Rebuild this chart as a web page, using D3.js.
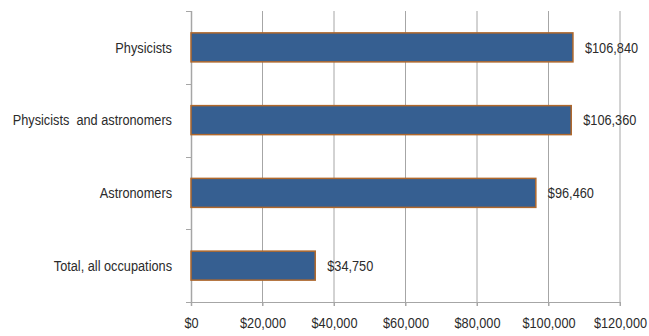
<!DOCTYPE html>
<html>
<head>
<meta charset="utf-8">
<script src="https://cdn.jsdelivr.net/npm/d3@7"></script>
<style>
  body { margin: 0; background: #fff; }
  text { font-family: "Liberation Sans", Arial, sans-serif; fill: #2b2b2b; }
</style>
</head>
<body>
<div id="chart"></div>
<script>
'use strict';

// wages by occupation, top to bottom
var categories = ['Physicists', 'Physicists  and astronomers', 'Astronomers', 'Total, all occupations'];
var wages = [106840, 106360, 96460, 34750];
var xTicks = [0, 20000, 40000, 60000, 80000, 100000, 120000];

var width = 649, height = 336;
var margin = {top: 11, right: 29, bottom: 34, left: 191};
var fontSize = 15;
var narrow = 0.85; // no Arial Narrow here, squeeze Liberation Sans instead

var svg = d3.select('#chart').append('svg')
  .attr('width', width)
  .attr('height', height);

var x = d3.scaleLinear()
  .domain([0, 120000])
  .range([margin.left, width - margin.right]);

// one band per category, ticks sit on the band edges
var y = d3.scaleBand()
  .domain(categories)
  .range([margin.top, height - margin.bottom]);

var fmt = function (v) { return '$' + d3.format(',')(v); };
var place = function (px, py) {
  return 'translate(' + px + ',' + py + ') scale(' + narrow + ',1)';
};

// vertical gridlines
svg.append('g')
  .selectAll('line')
  .data(xTicks.slice(1))
  .join('line')
  .attr('x1', function (d) { return x(d); })
  .attr('x2', function (d) { return x(d); })
  .attr('y1', margin.top)
  .attr('y2', height - margin.bottom + 4)
  .attr('stroke', '#a6a6a6')
  .attr('stroke-width', 1);

// bottom axis
var xAxis = svg.append('g')
  .attr('transform', 'translate(0,' + (height - margin.bottom) + ')')
  .call(d3.axisBottom(x).tickValues(xTicks).tickFormat(fmt).tickSize(4).tickPadding(11));
xAxis.select('.domain')
  .attr('d', 'M' + (margin.left - 5) + ',0.5H' + x(120000))
  .attr('stroke', '#a6a6a6');
xAxis.selectAll('.tick line').attr('stroke', '#a6a6a6');
xAxis.selectAll('.tick text')
  .attr('font-size', fontSize)
  .attr('y', null)
  .attr('transform', place(0, 15))
  .style('fill', '#2b2b2b');

// left axis
var yAxis = svg.append('g');
yAxis.append('line')
  .attr('x1', margin.left + 0.5).attr('x2', margin.left + 0.5)
  .attr('y1', margin.top).attr('y2', height - margin.bottom + 4)
  .attr('stroke', '#a6a6a6').attr('stroke-width', 1.5);
yAxis.selectAll('line.tk')
  .data(categories)
  .join('line')
  .attr('class', 'tk')
  .attr('x1', margin.left - 5).attr('x2', margin.left)
  .attr('y1', function (d) { return Math.round(y(d)) + 0.5; })
  .attr('y2', function (d) { return Math.round(y(d)) + 0.5; })
  .attr('stroke', '#a6a6a6');

var mid = function (d) { return y(d) + y.bandwidth() / 2; };
var barH = 29;

yAxis.selectAll('text')
  .data(categories)
  .join('text')
  .attr('transform', function (d) { return place(172, mid(d)); })
  .attr('dy', '0.35em')
  .attr('text-anchor', 'end')
  .attr('font-size', fontSize)
  .attr('xml:space', 'preserve')
  .style('white-space', 'pre')
  .text(function (d) { return d; });

// bars
svg.append('g')
  .selectAll('rect')
  .data(wages)
  .join('rect')
  .attr('x', x(0))
  .attr('y', function (d, i) { return mid(categories[i]) - barH / 2; })
  .attr('width', function (d) { return x(d) - x(0); })
  .attr('height', barH)
  .attr('fill', '#365f91')
  .attr('stroke', '#b0682c')
  .attr('stroke-width', 1.5);

// value labels
svg.append('g')
  .selectAll('text')
  .data(wages)
  .join('text')
  .attr('transform', function (d, i) { return place(x(d) + 12, mid(categories[i])); })
  .attr('dy', '0.35em')
  .attr('font-size', fontSize)
  .text(fmt);
</script>
</body>
</html>
